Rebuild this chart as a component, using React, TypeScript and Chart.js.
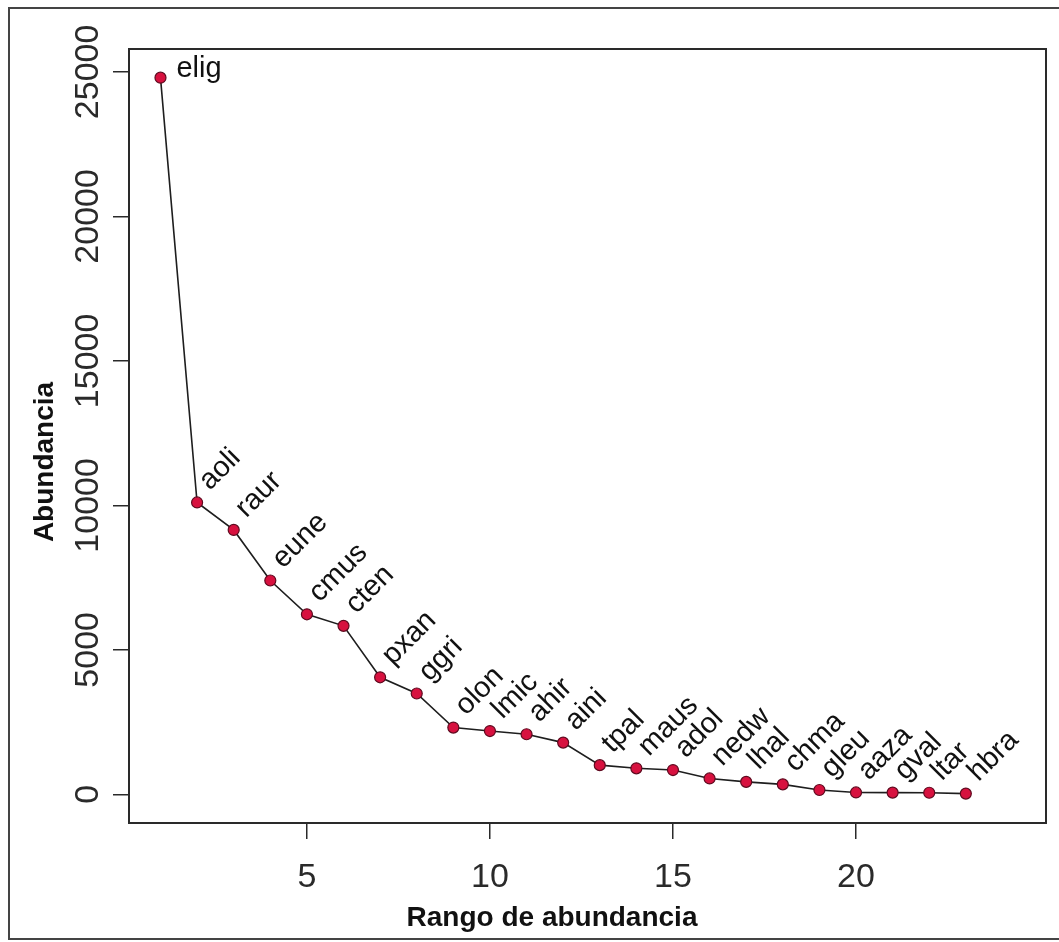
import React, { useEffect, useRef } from "react";
import { Chart, registerables } from "chart.js";

Chart.register(...registerables);

const species = ["elig", "aoli", "raur", "eune", "cmus", "cten", "pxan", "ggri", "olon", "lmic", "ahir", "aini", "tpal", "maus", "adol", "nedw", "lhal", "chma", "gleu", "aaza", "gval", "ltar", "hbra"];
const ranks = [1, 2, 3, 4, 5, 6, 7, 8, 9, 10, 11, 12, 13, 14, 15, 16, 17, 18, 19, 20, 21, 22, 23];
const abundance = [24800, 10100, 9150, 7400, 6230, 5830, 4050, 3490, 2310, 2190, 2080, 1790, 1010, 900, 840, 550, 430, 345, 150, 65, 60, 55, 25];
const xTickValues = [5, 10, 15, 20];
const yTickValues = [0, 5000, 10000, 15000, 20000, 25000];
const xTitle = "Rango de abundancia";
const yTitle = "Abundancia";

const FONT = "'Liberation Sans', Arial, Helvetica, sans-serif";

const decorPlugin = {
  id: "decor",
  beforeDatasetsDraw(chart: any) {
    const { ctx, chartArea } = chart;
    ctx.save();
    ctx.strokeStyle = "#2a2a2a";
    ctx.lineWidth = 2;
    ctx.strokeRect(chartArea.left, chartArea.top, chartArea.right - chartArea.left, chartArea.bottom - chartArea.top);
    ctx.restore();
  },
  afterDatasetsDraw(chart: any) {
    const { ctx, chartArea } = chart;
    const ys = chart.scales.y;
    ctx.save();
    // outer frame
    ctx.strokeStyle = "#444";
    ctx.lineWidth = 2;
    ctx.strokeRect(9, 8, 1080, 931);

    // y tick labels (rotated)
    ctx.fillStyle = "#2a2a2a";
    ctx.font = `34px ${FONT}`;
    ctx.textAlign = "center";
    ctx.textBaseline = "middle";
    yTickValues.forEach((v) => {
      const py = ys.getPixelForValue(v);
      ctx.save();
      ctx.translate(chartArea.left - 40, py);
      ctx.rotate(-Math.PI / 2);
      ctx.fillText(String(v), 0, 0);
      ctx.restore();
    });

    // axis titles
    ctx.fillStyle = "#111";
    ctx.font = `bold 28px ${FONT}`;
    ctx.textAlign = "center";
    ctx.textBaseline = "middle";
    ctx.fillText(xTitle, 552, 918);
    ctx.save();
    ctx.translate(45, 462);
    ctx.rotate(-Math.PI / 2);
    ctx.fillText(yTitle, 0, 0);
    ctx.restore();

    // point labels
    const meta = chart.getDatasetMeta(0);
    ctx.font = `29px ${FONT}`;
    ctx.fillStyle = "#111";
    meta.data.forEach((pt: any, i: number) => {
      const label = species[i];
      if (i === 0) {
        ctx.textAlign = "left";
        ctx.textBaseline = "alphabetic";
        ctx.fillText(label, pt.x + 16, pt.y - 1);
      } else {
        ctx.save();
        ctx.translate(pt.x + 7, pt.y - 17);
        ctx.rotate(-Math.PI / 4);
        ctx.textAlign = "left";
        ctx.textBaseline = "middle";
        ctx.fillText(label, 0, 0);
        ctx.restore();
      }
    });
    ctx.restore();
  },
};

export default function App() {
  const canvasRef = useRef<HTMLCanvasElement | null>(null);

  useEffect(() => {
    const canvas = canvasRef.current;
    if (!canvas) return;
    const chart = new Chart(canvas, {
      type: "line",
      data: {
        datasets: [
          {
            data: ranks.map((r, i) => ({ x: r, y: abundance[i] })),
            borderColor: "#1e1e1e",
            borderWidth: 1.6,
            pointBackgroundColor: "#d7113f",
            pointBorderColor: "#5e0a1f",
            pointBorderWidth: 1.2,
            pointRadius: 5.5,
            tension: 0,
            fill: false,
          },
        ],
      },
      options: {
        responsive: false,
        animation: false,
        events: [],
        layout: { padding: { top: 49, right: 13, left: 0, bottom: 0 } },
        plugins: { legend: { display: false }, tooltip: { enabled: false }, title: { display: false } },
        scales: {
          x: {
            type: "linear",
            position: "bottom",
            min: 0.14,
            max: 25.19,
            afterBuildTicks: (s: any) => {
              s.ticks = xTickValues.map((v) => ({ value: v }));
            },
            afterFit: (s: any) => {
              s.height = 119;
            },
            border: { display: false },
            grid: { drawOnChartArea: false, drawTicks: true, tickLength: 16, color: "#2a2a2a", lineWidth: 1.5 },
            ticks: {
              autoSkip: false,
              maxRotation: 0,
              minRotation: 0,
              padding: 18,
              color: "#2a2a2a",
              font: { family: FONT, size: 34 },
              callback: (v: any) => String(v),
            },
          },
          y: {
            type: "linear",
            position: "left",
            min: -992,
            max: 25792,
            afterBuildTicks: (s: any) => {
              s.ticks = yTickValues.map((v) => ({ value: v }));
            },
            afterFit: (s: any) => {
              s.width = 129;
            },
            border: { display: false },
            grid: { drawOnChartArea: false, drawTicks: true, tickLength: 16, color: "#2a2a2a", lineWidth: 1.5 },
            ticks: { display: false },
          },
        },
      },
      plugins: [decorPlugin],
    });
    return () => chart.destroy();
  }, []);

  return (
    <div style={{ position: "fixed", left: 0, top: 0, width: 1059, height: 942, background: "#fff" }}>
      <canvas ref={canvasRef} width={1059} height={942} style={{ display: "block" }} />
    </div>
  );
}
